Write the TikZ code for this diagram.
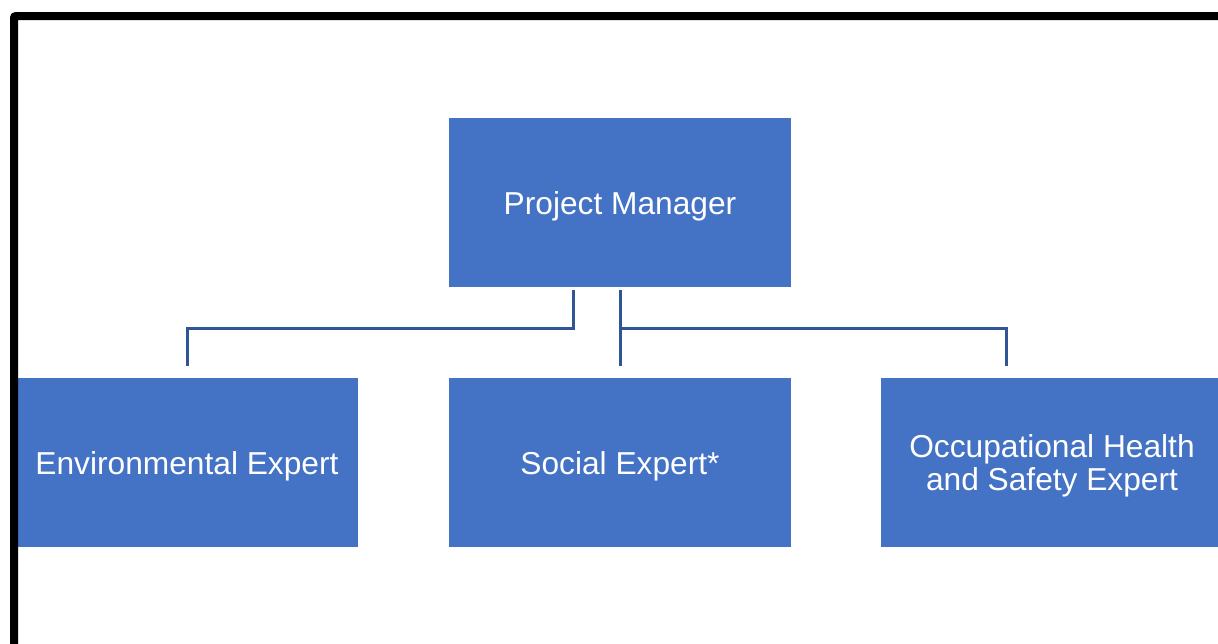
\documentclass[tikz,border=0pt]{standalone}
\usepackage{fontspec}
\setmainfont{Liberation Sans}
\definecolor{boxblue}{RGB}{68,114,196}
\definecolor{lineblue}{RGB}{47,85,151}
\begin{document}
\begin{tikzpicture}[x=1pt,y=-1pt,
  orgbox/.style={fill=boxblue,draw=none,text=white,align=center,
    minimum width=342pt,minimum height=169pt,inner sep=0pt,
    text height=23pt,text depth=0pt,
    font=\fontsize{31.7}{33.5}\selectfont},
  conn/.style={draw=lineblue,line width=3pt}]
\useasboundingbox (0,0) rectangle (1218,643);
\clip (0,0) rectangle (1218,643);
\fill[white] (0,0) rectangle (1218,643);
\node[orgbox] (pm) at (620,202.5) {Project Manager};
\node[orgbox] (env) at (187,462.5) {Environmental Expert};
\node[orgbox] (soc) at (620,462.5) {Social Expert*};
\node[orgbox,text height=56.5pt] (ohs) at (1052,462.5) {Occupational Health\\and Safety Expert};
\coordinate (pmL) at (573,290);
\coordinate (pmM) at (620,290);
\coordinate (envT) at (187,366);
\coordinate (socT) at (620,366);
\coordinate (ohsT) at (1006,366);
\draw[conn] (pmL) |- (187,328) -- (envT);
\draw[conn] (pmM) -- (socT);
\draw[conn] (pmM |- 328,328) -| (ohsT);
\draw[line width=8pt,rounded corners=2pt] (14,660) -- (14,16) -- (1240,16);
\end{tikzpicture}
\end{document}
